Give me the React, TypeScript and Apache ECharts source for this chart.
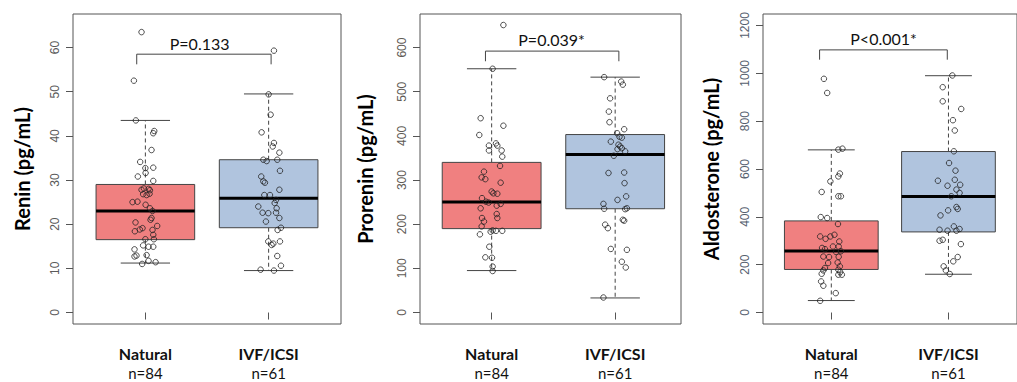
import React, { useEffect, useRef } from "react";
import * as echarts from "echarts";

// ---------- data ----------
const groups = ["Natural", "IVF/ICSI"];
const groupN = ["n=84", "n=61"];
const yTitles = ["Renin (pg/mL)", "Prorenin (pg/mL)", "Aldosterone (pg/mL)"];
const pLabels = ["P=0.133", "P=0.039*", "P<0.001*"];

const yTicksRenin = [0, 10, 20, 30, 40, 50, 60];
const yTicksProrenin = [0, 100, 200, 300, 400, 500, 600];
const yTicksAldo = [0, 200, 400, 600, 800, 1000, 1200];

// box stats: [lowerWhisker, Q1, median, Q3, upperWhisker]
const reninNatStats = [11.2, 16.5, 23.0, 29.0, 43.5];
const reninIvfStats = [9.5, 19.2, 25.9, 34.6, 49.5];
const proreninNatStats = [95, 190, 250, 340, 552];
const proreninIvfStats = [33, 235, 358, 403, 533];
const aldoNatStats = [50, 180, 257, 383, 680];
const aldoIvfStats = [160, 337, 485, 673, 990];

// bracket: [leftX, rightX, topY, legY, textX, textY]
const bracketRenin = [0.93, 2.02, 58.5, 56.2, 1.44, 61];
const bracketProrenin = [0.95, 2.03, 592, 569, 1.485, 619];
const bracketAldo = [0.9, 1.99, 1098, 1057, 1.446, 1144];

// jittered points: [offset from group position, value]
const reninNatPts = [
  [-0.031, 63.5], [-0.093, 52.5], [-0.077, 43.5], [0.072, 41.1], [0.064, 40.6], [0.05, 36.8],
  [-0.042, 34.1], [0.064, 32.8], [0.0, 32.7], [0.002, 31.6], [-0.061, 30.8], [0.064, 29.8],
  [0.026, 28.0], [-0.031, 27.8], [-0.012, 28.1], [0.037, 27.7], [-0.018, 26.8], [0.01, 26.6],
  [0.034, 26.9], [-0.104, 25.0], [-0.064, 25.1], [0.002, 24.4], [0.037, 23.6], [0.058, 23.0],
  [0.05, 21.4], [0.042, 21.0], [-0.08, 20.4], [0.096, 19.6], [-0.023, 19.1], [-0.045, 18.8],
  [-0.085, 18.4], [0.058, 18.7], [0.064, 17.6], [0.0, 16.6], [0.069, 16.6], [-0.018, 15.2],
  [0.026, 14.9], [0.064, 14.9], [-0.088, 14.3], [-0.072, 12.9], [-0.088, 12.7], [0.01, 13.0],
  [0.026, 11.7], [-0.026, 11.0], [0.083, 11.4],
];
const reninIvfPts = [
  [0.043, 59.3], [0.0, 49.4], [0.016, 44.8], [-0.057, 40.8], [0.043, 38.4], [0.033, 37.6],
  [0.087, 36.2], [-0.043, 34.6], [-0.016, 34.3], [0.07, 34.6], [0.092, 32.1], [-0.06, 30.8],
  [-0.043, 29.7], [-0.03, 29.4], [0.087, 27.8], [-0.035, 26.6], [0.011, 26.6], [0.06, 25.5],
  [0.049, 24.8], [-0.084, 24.0], [0.065, 23.6], [-0.049, 22.6], [-0.003, 22.5], [0.06, 22.6],
  [0.087, 21.4], [-0.022, 20.6], [0.1, 19.2], [0.073, 18.7], [-0.003, 16.1], [0.024, 15.3],
  [0.038, 15.6], [0.092, 16.1], [0.07, 12.8], [0.1, 10.6], [-0.065, 9.7], [0.043, 9.5],
];
const proreninNatPts = [
  [0.095, 651], [0.008, 552], [-0.089, 440], [0.095, 423], [-0.1, 402], [-0.022, 378],
  [0.035, 383], [0.046, 378], [-0.022, 367], [0.081, 367], [0.086, 353], [0.068, 332],
  [-0.062, 319], [-0.081, 306], [-0.051, 302], [0.073, 294], [0.0, 274], [0.014, 270],
  [0.046, 269], [-0.078, 259], [-0.046, 251], [-0.024, 249], [0.073, 246], [0.041, 242],
  [-0.089, 236], [0.041, 223], [0.046, 214], [-0.078, 214], [-0.062, 206], [-0.081, 195],
  [0.008, 186], [-0.008, 183], [0.035, 185], [0.086, 185], [-0.095, 177], [-0.019, 149],
  [-0.051, 125], [0.003, 124], [0.008, 104], [0.008, 94],
];
const proreninIvfPts = [
  [-0.089, 533], [0.049, 523], [0.062, 516], [-0.041, 485], [-0.051, 455], [-0.046, 431],
  [0.073, 415], [0.016, 406], [0.035, 398], [0.054, 396], [-0.035, 387], [0.027, 380],
  [0.041, 376], [0.054, 372], [0.019, 370], [0.081, 365], [-0.011, 355], [-0.054, 316],
  [0.073, 317], [0.076, 293], [0.089, 263], [0.019, 255], [-0.095, 246], [-0.089, 235],
  [0.095, 236], [0.081, 234], [0.062, 210], [0.073, 208], [-0.081, 199], [-0.059, 191],
  [-0.035, 144], [0.095, 142], [0.054, 115], [0.086, 102], [-0.095, 34],
];
const aldoNatPts = [
  [-0.063, 977], [-0.035, 918], [0.06, 681], [0.095, 685], [0.073, 581], [0.06, 569],
  [-0.008, 548], [-0.082, 504], [0.06, 486], [0.082, 486], [-0.09, 399], [-0.035, 395],
  [0.057, 370], [-0.095, 318], [-0.049, 308], [-0.008, 318], [0.027, 325], [0.068, 297],
  [-0.079, 270], [-0.054, 265], [0.014, 276], [0.063, 276], [0.041, 253], [0.082, 256],
  [-0.068, 234], [-0.019, 232], [0.063, 233], [0.054, 209], [0.073, 193], [-0.027, 207],
  [-0.054, 186], [-0.068, 176], [0.06, 179], [0.076, 169], [0.09, 158], [0.06, 158],
  [-0.082, 162], [-0.087, 130], [-0.068, 112], [0.038, 81], [-0.095, 49],
];
const aldoIvfPts = [
  [0.033, 991], [-0.049, 942], [-0.049, 883], [0.109, 851], [0.038, 804], [0.054, 761],
  [0.046, 674], [0.005, 625], [0.06, 593], [-0.09, 551], [0.054, 555], [-0.008, 530],
  [0.1, 534], [0.068, 514], [0.095, 500], [0.024, 486], [0.068, 441], [0.079, 433],
  [-0.003, 427], [-0.068, 406], [0.046, 360], [0.095, 349], [-0.076, 346], [-0.008, 342],
  [0.068, 342], [-0.076, 300], [-0.049, 304], [0.106, 286], [0.079, 232], [0.041, 214],
  [-0.041, 193], [-0.022, 176], [0.011, 161],
];

const boxColors = ["#F08080", "#B0C4DE"];

const panels = [
  {
    title: yTitles[0], ticks: yTicksRenin, yMin: -2.6, yMax: 67.6,
    stats: [reninNatStats, reninIvfStats], pts: [reninNatPts, reninIvfPts],
    bracket: bracketRenin, p: pLabels[0],
    left: 73, width: 268, xMin: 0.413, xMax: 2.587, labelColor: "#5a5a5a", nameGap: 41,
  },
  {
    title: yTitles[1], ticks: yTicksProrenin, yMin: -26, yMax: 676,
    stats: [proreninNatStats, proreninIvfStats], pts: [proreninNatPts, proreninIvfPts],
    bracket: bracketProrenin, p: pLabels[1],
    left: 420, width: 261, xMin: 0.42, xMax: 2.533, labelColor: "#605a55", nameGap: 45,
  },
  {
    title: yTitles[2], ticks: yTicksAldo, yMin: -48, yMax: 1248,
    stats: [aldoNatStats, aldoIvfStats], pts: [aldoNatPts, aldoIvfPts],
    bracket: bracketAldo, p: pLabels[2],
    left: 763, width: 266, xMin: 0.417, xMax: 2.585, labelColor: "#55606e", nameGap: 42,
  },
];

function buildOption() {
  const grid: any[] = [];
  const xAxis: any[] = [];
  const yAxis: any[] = [];
  const series: any[] = [];

  panels.forEach((pn, i) => {
    grid.push({
      left: pn.left, top: 14, width: pn.width, height: 310,
      show: true, borderColor: "#555", borderWidth: 1, backgroundColor: "transparent",
    });
    xAxis.push({
      gridIndex: i, type: "value", min: pn.xMin, max: pn.xMax,
      axisLine: { show: false },
      splitLine: { show: false },
      axisTick: { show: true, customValues: [1, 2], length: 7, lineStyle: { color: "#555" } },
      axisLabel: {
        customValues: [1, 2], margin: 20,
        formatter: (v: number) => `{b|${groups[Math.round(v) - 1]}}\n{n|${groupN[Math.round(v) - 1]}}`,
        rich: {
          b: { fontFamily: "Lato", fontWeight: "bold", fontSize: 16, lineHeight: 19, color: "#111" },
          n: { fontFamily: "Lato", fontSize: 15, lineHeight: 19, color: "#111" },
        },
      },
    });
    yAxis.push({
      gridIndex: i, type: "value", min: pn.yMin, max: pn.yMax,
      name: pn.title, nameLocation: "middle", nameRotate: 90, nameGap: pn.nameGap,
      nameTextStyle: { fontFamily: "Lato", fontWeight: "bold", fontSize: 20, color: "#000" },
      axisLine: { show: false },
      splitLine: { show: false },
      axisTick: { show: true, customValues: pn.ticks, length: 7, lineStyle: { color: "#555" } },
      axisLabel: {
        customValues: pn.ticks, rotate: 90, margin: 12,
        fontFamily: "Liberation Sans", fontSize: 12, color: pn.labelColor,
        formatter: (v: number) => String(Math.round(v)),
      },
    });

    // boxes
    series.push({
      type: "custom", xAxisIndex: i, yAxisIndex: i, z: 2, silent: true,
      data: pn.stats.map((s, k) => [k + 1, ...s]),
      renderItem: (params: any, api: any) => {
        const x = api.value(0);
        const lo = api.value(1), q1 = api.value(2), med = api.value(3), q3 = api.value(4), hi = api.value(5);
        const hw = 0.4, cw = 0.2;
        const tl = api.coord([x - hw, q3]);
        const br = api.coord([x + hw, q1]);
        const c = (a: number, b: number) => api.coord([a, b]);
        const dash = { stroke: "#444", lineWidth: 1, lineDash: [4, 3] };
        const solid = { stroke: "#444", lineWidth: 1 };
        const p1 = c(x, q3), p2 = c(x, hi), p3 = c(x, q1), p4 = c(x, lo);
        const h1 = c(x - cw, hi), h2 = c(x + cw, hi), l1 = c(x - cw, lo), l2 = c(x + cw, lo);
        const m1 = c(x - hw, med), m2 = c(x + hw, med);
        return {
          type: "group",
          children: [
            { type: "line", shape: { x1: p1[0], y1: p1[1], x2: p2[0], y2: p2[1] }, style: dash },
            { type: "line", shape: { x1: p3[0], y1: p3[1], x2: p4[0], y2: p4[1] }, style: dash },
            { type: "line", shape: { x1: h1[0], y1: h1[1], x2: h2[0], y2: h2[1] }, style: solid },
            { type: "line", shape: { x1: l1[0], y1: l1[1], x2: l2[0], y2: l2[1] }, style: solid },
            {
              type: "rect",
              shape: { x: tl[0], y: tl[1], width: br[0] - tl[0], height: br[1] - tl[1] },
              style: { fill: boxColors[params.dataIndex], stroke: "#444", lineWidth: 1 },
            },
            { type: "line", shape: { x1: m1[0], y1: m1[1], x2: m2[0], y2: m2[1] }, style: { stroke: "#000", lineWidth: 3 } },
          ],
        };
      },
    });

    // points
    pn.pts.forEach((arr, k) => {
      series.push({
        type: "scatter", xAxisIndex: i, yAxisIndex: i, z: 5, silent: true,
        symbol: "circle", symbolSize: 5.5,
        itemStyle: { color: "rgba(255,255,255,0)", borderColor: "#222", borderWidth: 0.8, opacity: 1 },
        data: arr.map(([j, v]) => [k + 1 + j, v]),
      });
    });

    // bracket + p label
    series.push({
      type: "custom", xAxisIndex: i, yAxisIndex: i, z: 6, silent: true,
      data: [pn.bracket],
      renderItem: (_params: any, api: any) => {
        const x1 = api.value(0), x2 = api.value(1), yt = api.value(2), yl = api.value(3);
        const tx = api.value(4), ty = api.value(5);
        const pts = [api.coord([x1, yl]), api.coord([x1, yt]), api.coord([x2, yt]), api.coord([x2, yl])];
        const tp = api.coord([tx, ty]);
        return {
          type: "group",
          children: [
            { type: "polyline", shape: { points: pts }, style: { stroke: "#444", lineWidth: 1, fill: "none" } },
            {
              type: "text", x: tp[0], y: tp[1],
              style: { text: pn.p, fontFamily: "Lato", fontSize: 16, fill: "#111", align: "center", verticalAlign: "middle" },
            },
          ],
        };
      },
    });
  });

  return { animation: false, backgroundColor: "#fff", grid, xAxis, yAxis, series };
}

export default function App() {
  const ref = useRef<HTMLDivElement>(null);
  useEffect(() => {
    document.body.style.margin = "0";
    if (!ref.current) return;
    const chart = echarts.init(ref.current, null, { renderer: "svg" });
    chart.setOption(buildOption() as any);
    return () => chart.dispose();
  }, []);
  return <div ref={ref} style={{ width: 1017, height: 382 }} />;
}
